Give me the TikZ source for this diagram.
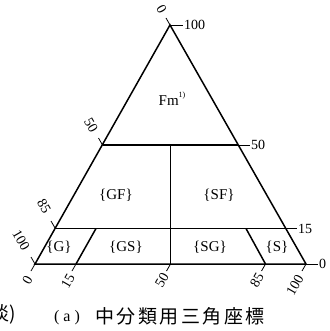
\documentclass[tikz,border=0pt]{standalone}
\usepackage{fontspec}
\setmainfont{Liberation Serif}
\newfontfamily\cjk{Noto Sans CJK JP}
\newfontfamily\cjkspaced{Noto Sans CJK JP}[LetterSpace=13]
\begin{document}
\begin{tikzpicture}[x=1pt,y=-1pt,
  mainline/.style={line width=1.5pt},
  midline/.style={line width=1.1pt},
  tickline/.style={line width=0.8pt},
  num/.style={font=\fontsize{14}{14}\selectfont, inner sep=0pt},
  region/.style={font=\fontsize{15}{15}\selectfont, inner sep=0pt},
  captext/.style={inner sep=0pt}]
\useasboundingbox (0,0) rectangle (329,331);
% corners and division points
\coordinate (A) at (170,25);
\coordinate (L) at (35,264);
\coordinate (R) at (306,264);
\coordinate (L50) at (102.5,145);
\coordinate (R50) at (238,145);
\coordinate (M50) at (170.5,145);
\coordinate (B50) at (170.5,264);
\coordinate (L15) at (55.3,228.5);
\coordinate (R15) at (285.6,228.5);
\coordinate (B15) at (76,264);
\coordinate (T15) at (96,228.5);
\coordinate (B85) at (265.5,264);
\coordinate (T85) at (246,228.5);
% triangle and dividing lines
\draw[mainline] (A) -- (L) -- (R) -- cycle;
\draw[mainline] (L50) -- (R50);
\draw[mainline] (L15) -- (R15);
\draw[mainline] (B15) -- (T15);
\draw[mainline] (B85) -- (T85);
\draw[midline] (M50) -- (B50);
% right axis ticks
\coordinate (rA) at (183,25);
\coordinate (r50) at (250,145);
\coordinate (r15) at (297,228.5);
\coordinate (r0) at (318,264);
\draw[tickline] (A) -- (rA);
\draw[tickline] (R50) -- (r50);
\draw[tickline] (R15) -- (r15);
\draw[tickline] (R) -- (r0);
\node[num, anchor=west] (nr100) at ([xshift=1pt]rA) {100};
\node[num, anchor=west] (nr50) at ([xshift=1pt]r50) {50};
\node[num, anchor=west] (nr15) at ([xshift=1pt]r15) {15};
\node[num, anchor=west] (nr0) at ([xshift=1pt]r0) {0};
% left axis ticks
\coordinate (lA) at (166,18);
\coordinate (l50) at (98.5,138);
\coordinate (l85) at (51,221);
\coordinate (l100) at (31,257);
\draw[tickline] (A) -- (lA);
\draw[tickline] (L50) -- (l50);
\draw[tickline] (L15) -- (l85);
\draw[tickline] (L) -- (l100);
\node[num, rotate=-60] (nl0) at (161.5,9.5) {0};
\node[num, rotate=-60] (nl50) at (91,125.5) {50};
\node[num, rotate=-60] (nl85) at (44,206.5) {85};
\node[num, rotate=-60] (nl100) at (21,240.5) {100};
% bottom axis ticks
\coordinate (b0) at (31,271);
\coordinate (b15) at (72,271);
\coordinate (b50) at (166.5,271);
\coordinate (b85) at (261.5,271);
\coordinate (b100) at (302,271);
\draw[tickline] (L) -- (b0);
\draw[tickline] (B15) -- (b15);
\draw[tickline] (B50) -- (b50);
\draw[tickline] (B85) -- (b85);
\draw[tickline] (R) -- (b100);
\node[num, rotate=60] (nb0) at (27.5,280.5) {0};
\node[num, rotate=60] (nb15) at (68,281) {15};
\node[num, rotate=60] (nb50) at (162,280) {50};
\node[num, rotate=60] (nb85) at (257,280) {85};
\node[num, rotate=60] (nb100) at (295,285.5) {100};
% region labels
\node[region] (fm) at (172,99) {Fm\raisebox{8pt}{\fontsize{8}{8}\selectfont 1)}};
\node[region] (gf) at (116,195) {\{GF\}};
\node[region] (sf) at (219,195) {\{SF\}};
\node[region] (g) at (59,247) {\{G\}};
\node[region] (gs) at (126,247) {\{GS\}};
\node[region] (sg) at (210,247) {\{SG\}};
\node[region] (s) at (277,247) {\{S\}};
% caption
\node[captext, font=\fontsize{16}{16}\selectfont] (capa) at (67,318) {(\hspace{4pt}a\hspace{4pt})};
\node[captext, anchor=west, font=\fontsize{19}{19}\cjkspaced] (capt) at (95,316) {中分類用三角座標};
\node[captext, anchor=east, font=\fontsize{19}{19}\cjk] (frag) at (16,314) {淡)};
\end{tikzpicture}
\end{document}
